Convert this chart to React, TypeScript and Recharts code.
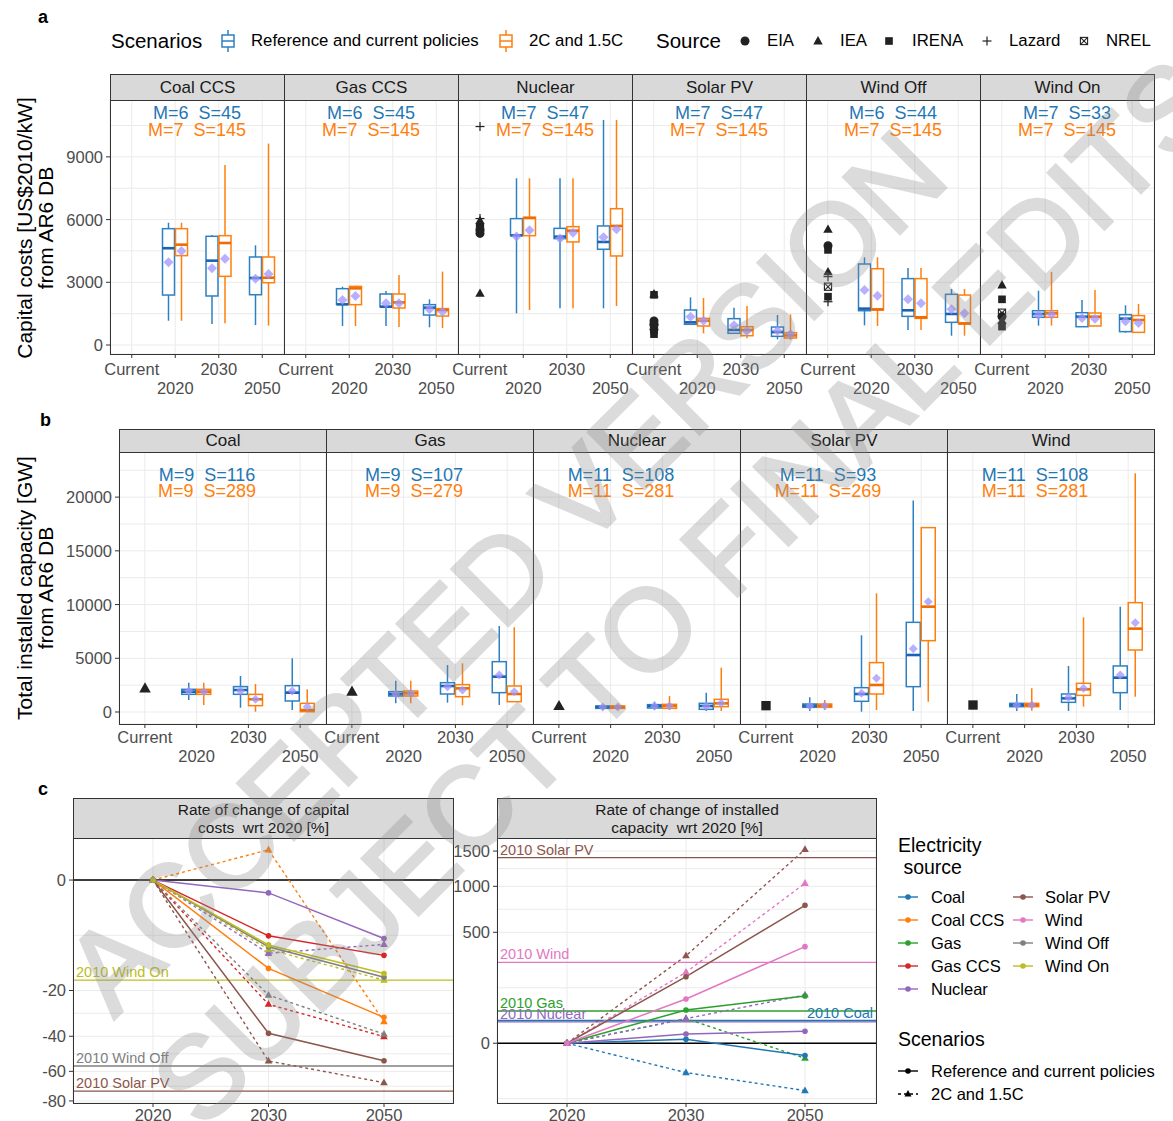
import React from 'react';
import { Bar, CartesianGrid, ComposedChart, Line, LineChart, ReferenceLine, XAxis, YAxis } from 'recharts';

const FONT = '"Liberation Sans", Arial, Helvetica, sans-serif';
const BLUE = '#2f80c2';
const BLUE_MED = '#1b62b0';
const ORANGE = '#ff7f0e';
const ORANGE_MED = '#ee6c00';
const TXT_BLUE = '#1f77b4';
const MEAN = 'rgba(160,150,255,0.75)';
const GRID = '#ebebeb';
const TICK = '#4d4d4d';
const DARK = '#333333';

const periods = ['Current', '2020', '2030', '2050'];
const sources = ['eia', 'iea', 'irena', 'lazard', 'nrel'];

// ---- panel a: capital costs, box stats [min, q1, median, q3, max, mean] for 2020 / 2030 / 2050
const costTechs = ['Coal CCS', 'Gas CCS', 'Nuclear', 'Solar PV', 'Wind Off', 'Wind On'];
const costCountsRef = ['M=6  S=45', 'M=6  S=45', 'M=7  S=47', 'M=7  S=47', 'M=6  S=44', 'M=7  S=33'];
const costCountsPol = ['M=7  S=145', 'M=7  S=145', 'M=7  S=145', 'M=7  S=145', 'M=7  S=145', 'M=7  S=145'];
const costRef = [
  [[1160, 2390, 4630, 5565, 5850, 3960], [1000, 2345, 4035, 5200, 5265, 3670], [955, 2405, 3205, 4210, 4770, 3175]],
  [[910, 1945, 1945, 2695, 2790, 2155], [910, 1820, 1835, 2440, 2585, 1995], [845, 1435, 1785, 1930, 2185, 1705]],
  [[1515, 5230, 5245, 6045, 7975, 5185], [1755, 5090, 5185, 5580, 7975, 5100], [1755, 4580, 4930, 5695, 10765, 5150]],
  [[990, 990, 1085, 1675, 2280, 1355], [560, 560, 720, 1260, 1785, 940], [270, 415, 620, 860, 1435, 685]],
  [[940, 1640, 1740, 3875, 4195, 2630], [720, 1370, 1660, 3175, 3685, 2185], [445, 1085, 1485, 2425, 2680, 1705]],
  [[925, 1325, 1485, 1640, 2600, 1435], [875, 875, 1355, 1545, 2155, 1290], [590, 640, 1260, 1450, 1900, 1135]],
];
const costPol = [
  [[1160, 4275, 4800, 5565, 5850, 4500], [1035, 3285, 4880, 5230, 8615, 4130], [925, 2980, 3220, 4210, 9635, 3395]],
  [[910, 1930, 2710, 2805, 2840, 2345], [860, 1770, 2040, 2440, 3350, 1995], [815, 1385, 1675, 1740, 3510, 1595]],
  [[1675, 5230, 6075, 6110, 7975, 5485], [1755, 4930, 5470, 5660, 7975, 5375], [1865, 4260, 5695, 6520, 10765, 5535]],
  [[560, 910, 1165, 1275, 2250, 1165], [320, 445, 720, 875, 1865, 670], [240, 335, 460, 590, 1465, 510]],
  [[910, 1675, 1705, 3650, 4195, 2360], [720, 1275, 1325, 3175, 3685, 1995], [445, 1005, 1035, 2390, 2680, 1515]],
  [[925, 1325, 1515, 1640, 3495, 1465], [910, 910, 1355, 1530, 2630, 1260], [605, 605, 1195, 1405, 1960, 1055]],
];
const costCurrent = [
  {},
  {},
  { eia: [5500, 5340], iea: [5950, 2470], irena: [5650], lazard: [10450, 6050], nrel: [5600] },
  { eia: [1150, 1000], iea: [2440, 880], irena: [2400, 700, 520], lazard: [950], nrel: [850] },
  { eia: [4750], iea: [5530, 3500], irena: [4550, 2310], lazard: [3270, 2070], nrel: [2790] },
  { eia: [1360], iea: [2870, 1165], irena: [2185, 880], nrel: [1545] },
];
const costDomain: [number, number] = [-430, 11720];
const costTicks = [0, 1500, 3000, 4500, 6000, 7500, 9000, 10500];
const costMajor = [0, 3000, 6000, 9000];

// ---- panel b: installed capacity
const capTechs = ['Coal', 'Gas', 'Nuclear', 'Solar PV', 'Wind'];
const capCountsRef = ['M=9  S=116', 'M=9  S=107', 'M=11  S=108', 'M=11  S=93', 'M=11  S=108'];
const capCountsPol = ['M=9  S=289', 'M=9  S=279', 'M=11  S=281', 'M=11  S=269', 'M=11  S=281'];
const capRef = [
  [[1115, 1645, 1895, 2110, 2730, 1955], [405, 1645, 2050, 2360, 3350, 1955], [185, 1025, 1800, 2450, 5000, 1955]],
  [[805, 1490, 1675, 1895, 2915, 1675], [870, 1675, 2420, 2730, 4375, 2360], [650, 1800, 3290, 4685, 8005, 3445]],
  [[185, 340, 465, 560, 685, 465], [185, 370, 560, 685, 960, 560], [95, 250, 560, 805, 1800, 560]],
  [[95, 435, 590, 745, 1365, 590], [30, 995, 1675, 2265, 7135, 1740], [95, 2360, 5305, 8345, 19675, 5895]],
  [[95, 495, 650, 805, 1675, 650], [95, 900, 1270, 1675, 4285, 1365], [185, 1800, 3195, 4285, 9805, 3445]],
];
const capPol = [
  [[650, 1645, 1895, 2110, 2730, 1895], [30, 590, 1180, 1645, 2605, 1180], [30, 30, 185, 805, 2110, 495]],
  [[805, 1490, 1740, 1955, 2915, 1740], [620, 1425, 2200, 2545, 4530, 2050], [960, 960, 1675, 2420, 7880, 1895]],
  [[185, 340, 465, 560, 685, 465], [185, 340, 560, 715, 1490, 560], [95, 495, 805, 1180, 4125, 805]],
  [[185, 435, 590, 745, 1115, 590], [185, 1675, 2515, 4595, 11045, 3135], [960, 6640, 9805, 17160, 17160, 10270]],
  [[125, 495, 650, 805, 2205, 650], [495, 1550, 2110, 2670, 8810, 2205], [1425, 5770, 7760, 10180, 22220, 8315]],
];
const capCurrent = [{ iea: [2205] }, { iea: [1895] }, { iea: [560] }, { irena: [590] }, { irena: [650] }];
const capDomain: [number, number] = [-1117, 24200];
const capTicks = [0, 2500, 5000, 7500, 10000, 12500, 15000, 17500, 20000, 22500];
const capMajor = [0, 5000, 10000, 15000, 20000];

// ---- panel c: rate of change wrt 2020 [%]
const years = ['2020', '2030', '2050'];
const colors: Record<string, string> = {
  Coal: '#1f77b4', 'Coal CCS': '#ff7f0e', Gas: '#2ca02c', 'Gas CCS': '#d62728', Nuclear: '#9467bd',
  'Solar PV': '#8c564b', Wind: '#e377c2', 'Wind Off': '#7f7f7f', 'Wind On': '#bcbd22',
};
const costRateRef = [[0, -12.8, -30.9], [0, -5.1, -9.3], [0, -0.27, -5.6], [0, -38.5, -53.5], [0, -7.3, -15.5], [0, -6.9, -14.3]];
const costRatePol = [[0, 1.5, -32.9], [0, -25.3, -40.2], [0, -8.8, -6.8], [0, -53.7, -67.3], [0, -21.7, -38.9], [0, -7.9, -16.4]];
const costRef2010 = [['Wind On', -16.4], ['Wind Off', -56.7], ['Solar PV', -73]];
const capRateRef = [[0, 0.65, -6.2], [0, 45, 90.8], [0, 3.5, 5.85], [0, 180, 773], [0, 79.6, 379]];
const capRatePol = [[0, -35, -91], [0, 24.6, -9.1], [0, 24.6, 94.7], [0, 311, 1527], [0, 204.6, 1039]];
const capRef2010 = [['Solar PV', 1398], ['Wind', 266], ['Gas', 42.3], ['Nuclear', 18.5], ['Coal', 21]];

function Txt({ x, y, size = 16, color = '#000', anchor = 'start', bold = false, children }: any) {
  const tx = anchor === 'middle' ? '-50%' : anchor === 'end' ? '-100%' : '0';
  return (
    <div style={{ position: 'absolute', left: x, top: y, transform: `translate(${tx}, -50%)`, fontSize: size, color, fontWeight: bold ? 700 : 400, whiteSpace: 'pre', lineHeight: 1.1 }}>
      {children}
    </div>
  );
}

function marker(type: string, cx: number, cy: number, s: number, key: string) {
  const h = s / 2;
  if (type === 'eia') return <circle key={key} cx={cx} cy={cy} r={h} fill="#222" />;
  if (type === 'iea') return <path key={key} d={`M${cx},${cy - h * 1.1} L${cx + h * 1.05},${cy + h * 0.75} L${cx - h * 1.05},${cy + h * 0.75}Z`} fill="#222" />;
  if (type === 'irena') return <rect key={key} x={cx - h * 0.85} y={cy - h * 0.85} width={h * 1.7} height={h * 1.7} fill="#222" />;
  if (type === 'lazard')
    return (
      <g key={key} stroke="#222" strokeWidth={1.2}>
        <line x1={cx - h} x2={cx + h} y1={cy} y2={cy} />
        <line x1={cx} x2={cx} y1={cy - h} y2={cy + h} />
      </g>
    );
  return (
    <g key={key} stroke="#222" strokeWidth={1.1} fill="none">
      <rect x={cx - h * 0.8} y={cy - h * 0.8} width={h * 1.6} height={h * 1.6} />
      <line x1={cx - h * 0.8} x2={cx + h * 0.8} y1={cy - h * 0.8} y2={cy + h * 0.8} />
      <line x1={cx - h * 0.8} x2={cx + h * 0.8} y1={cy + h * 0.8} y2={cy - h * 0.8} />
    </g>
  );
}

const boxShape = (key: 'ref' | 'pol', stroke: string, med: string, dia: number) => (props: any) => {
  const { x, y, width, height, payload } = props;
  const b = payload ? payload[key] : null;
  if (!b || !height) return <g />;
  const [lo, q1, md, q3, hi, mean] = b;
  const py = (v: number) => y + ((hi - v) / (hi - lo)) * height;
  const cx = x + width / 2;
  const my = py(mean);
  return (
    <g>
      <line x1={cx} x2={cx} y1={py(hi)} y2={py(q3)} stroke={stroke} strokeWidth={1.5} />
      <line x1={cx} x2={cx} y1={py(q1)} y2={py(lo)} stroke={stroke} strokeWidth={1.5} />
      <rect x={x} y={py(q3)} width={width} height={Math.max(py(q1) - py(q3), 0.5)} fill="#fff" stroke={stroke} strokeWidth={1.5} />
      <line x1={x} x2={x + width} y1={py(md)} y2={py(md)} stroke={med} strokeWidth={2.6} />
      <path d={`M${cx},${my - dia} L${cx + dia},${my} L${cx},${my + dia} L${cx - dia},${my}Z`} fill={MEAN} />
    </g>
  );
};

const curShape = (domain: [number, number], s: number) => (props: any) => {
  const { x, y, width, height, payload } = props;
  const c = payload ? payload.cur : null;
  if (!c || !height) return <g />;
  const [lo, hi] = domain;
  const py = (v: number) => y + ((hi - v) / (hi - lo)) * height;
  const cx = x + width / 2;
  return <g>{sources.flatMap((src) => (c[src] || []).map((v: number, i: number) => marker(src, cx, py(v), s, `${src}${i}`)))}</g>;
};

const makeYTick = (major: number[], size: number) => (props: any) => {
  const { x, y, payload } = props;
  if (!major.includes(payload.value)) return <g />;
  return (
    <g>
      <line x1={x + 3} x2={x + 7} y1={y} y2={y} stroke={DARK} />
      <text x={x} y={y} dy={size * 0.36} textAnchor="end" fontSize={size} fill={TICK}>
        {payload.value}
      </text>
    </g>
  );
};

const makeStagTick = (d1: number, d2: number) => (props: any) => {
  const { x, y, payload, index } = props;
  return (
    <text x={x} y={y + (index % 2 === 0 ? d1 : d2)} textAnchor="middle" fontSize={16.5} fill={TICK}>
      {payload.value}
    </text>
  );
};

function BoxFacet({ left, top, width, plotH, axisW, domain, ticks, major, rows, barSize, dy, dia, mSize }: any) {
  return (
    <div style={{ position: 'absolute', left: left - axisW, top }}>
      <ComposedChart width={width + axisW} height={plotH + 45} data={rows} margin={{ top: 0, right: 0, bottom: 0, left: 0 }} barGap={1}>
        <CartesianGrid stroke={GRID} />
        <XAxis dataKey="cat" type="category" interval={0} height={45} tickSize={4} tickMargin={0} axisLine={false} tickLine={{ stroke: DARK }} tick={makeStagTick(dy[0], dy[1])} />
        <XAxis xAxisId="cur" dataKey="cat" type="category" hide />
        <YAxis type="number" domain={domain} allowDataOverflow ticks={ticks} interval={0} width={axisW || 1} hide={!axisW} tickSize={4} tickMargin={3} tickLine={false} axisLine={false} tick={makeYTick(major, 16.5)} />
        <Bar dataKey={(d: any) => (d.ref ? [d.ref[0], d.ref[4]] : null)} barSize={barSize} shape={boxShape('ref', BLUE, BLUE_MED, dia)} isAnimationActive={false} />
        <Bar dataKey={(d: any) => (d.pol ? [d.pol[0], d.pol[4]] : null)} barSize={barSize} shape={boxShape('pol', ORANGE, ORANGE_MED, dia)} isAnimationActive={false} />
        <Bar xAxisId="cur" dataKey={(d: any) => (d.cur ? domain : null)} barSize={12} shape={curShape(domain, mSize)} isAnimationActive={false} />
      </ComposedChart>
    </div>
  );
}

function facetRows(ref: number[][], pol: number[][], cur: any) {
  return periods.map((p, i) => ({ cat: p, ref: i > 0 ? ref[i - 1] : null, pol: i > 0 ? pol[i - 1] : null, cur: i === 0 ? cur : null }));
}

function Strip({ left, top, width, height, size = 17, children }: any) {
  return (
    <div style={{ position: 'absolute', left, top, width, height, background: '#d9d9d9', border: `1px solid ${DARK}`, boxSizing: 'border-box', display: 'flex', alignItems: 'center', justifyContent: 'center', textAlign: 'center', fontSize: size, color: '#1a1a1a', lineHeight: 1.12, whiteSpace: 'pre' }}>
      {children}
    </div>
  );
}

function Frame({ left, top, width, height }: any) {
  return <div style={{ position: 'absolute', left, top, width, height, border: `1px solid ${DARK}`, boxSizing: 'border-box', pointerEvents: 'none' }} />;
}

const triDot = (color: string) => (p: any) => {
  if (p.cx == null || p.cy == null) return <g key={`t${p.index}`} />;
  return <path key={`t${p.index}`} d={`M${p.cx},${p.cy - 4.2} L${p.cx + 3.8},${p.cy + 2.6} L${p.cx - 3.8},${p.cy + 2.6}Z`} fill={color} />;
};

function RateChart({ left, width, axisW, techs, refVals, polVals, lines2010, domain, ticks, major, padding, labelRight }: any) {
  const rows = years.map((yr, i) => {
    const row: any = { year: yr };
    techs.forEach((_t: string, k: number) => {
      row[`r${k}`] = refVals[k][i];
      row[`p${k}`] = polVals[k][i];
    });
    return row;
  });
  return (
    <div style={{ position: 'absolute', left: left - axisW, top: 838 }}>
      <LineChart width={width + axisW} height={290} data={rows} margin={{ top: 0, right: 0, bottom: 0, left: 0 }}>
        <CartesianGrid stroke={GRID} />
        <XAxis dataKey="year" type="category" interval={0} padding={padding} height={25} tickSize={4} tickMargin={2} axisLine={false} tickLine={{ stroke: DARK }} tick={{ fill: TICK, fontSize: 16.5 }} />
        <YAxis type="number" scale="sqrt" domain={domain} allowDataOverflow ticks={ticks} interval={0} width={axisW} tickSize={4} tickMargin={3} tickLine={false} axisLine={false} tick={makeYTick(major, 16.5)} />
        <ReferenceLine y={0} stroke="#000" strokeWidth={1.4} />
        {lines2010.map(([name, v]: any) => (
          <ReferenceLine
            key={name}
            y={v}
            stroke={colors[name]}
            strokeWidth={1.3}
            label={{ value: `2010 ${name}`, position: labelRight.includes(name) ? 'insideBottomRight' : 'insideBottomLeft', fill: colors[name], fontSize: 14.5, offset: 3 }}
          />
        ))}
        {techs.map((t: string, k: number) => (
          <Line key={`p${k}`} dataKey={`p${k}`} stroke={colors[t]} strokeWidth={1.4} strokeDasharray="3 3" dot={triDot(colors[t])} isAnimationActive={false} />
        ))}
        {techs.map((t: string, k: number) => (
          <Line key={`r${k}`} dataKey={`r${k}`} stroke={colors[t]} strokeWidth={1.5} dot={{ r: 2.8, fill: colors[t], stroke: colors[t], strokeWidth: 0 }} isAnimationActive={false} />
        ))}
      </LineChart>
    </div>
  );
}

function BoxGlyph({ color }: any) {
  return (
    <svg width={16} height={22} style={{ display: 'block' }}>
      <line x1={8} x2={8} y1={0} y2={22} stroke={color} strokeWidth={1.5} />
      <rect x={2} y={5} width={12} height={12} fill="#fff" stroke={color} strokeWidth={1.5} />
      <line x1={2} x2={14} y1={11} y2={11} stroke={color} strokeWidth={1.5} />
    </svg>
  );
}

function Sym({ type, x, y }: any) {
  return (
    <svg width={14} height={14} style={{ position: 'absolute', left: x - 7, top: y - 7 }}>
      {marker(type, 7, 7, 9, type)}
    </svg>
  );
}

function KeyLine({ x, y, color, dashed }: any) {
  return (
    <svg width={22} height={12} style={{ position: 'absolute', left: x, top: y - 6 }}>
      <line x1={1} x2={21} y1={6} y2={6} stroke={color} strokeWidth={1.4} strokeDasharray={dashed ? '3 3' : undefined} />
      {dashed ? <path d="M11,2 L14.5,8.5 L7.5,8.5Z" fill={color} /> : <circle cx={11} cy={6} r={2.8} fill={color} />}
    </svg>
  );
}

export default function App() {
  const aLeft = 110;
  const aW = 174;
  const bLeft = 119;
  const bW = 207;
  return (
    <div style={{ position: 'absolute', left: 0, top: 0, width: 1173, height: 1121, overflow: 'hidden', background: '#fff', fontFamily: FONT }}>
      <style>{'.recharts-surface{overflow:visible}'}</style>
      {/* ---------- a ---------- */}
      <Txt x={38} y={18} size={18} bold>a</Txt>
      <Txt x={111} y={41} size={20.5}>Scenarios</Txt>
      <div style={{ position: 'absolute', left: 220, top: 30 }}><BoxGlyph color={BLUE} /></div>
      <Txt x={251} y={41} size={16.8}>Reference and current policies</Txt>
      <div style={{ position: 'absolute', left: 498, top: 30 }}><BoxGlyph color={ORANGE} /></div>
      <Txt x={529} y={41} size={16.8}>2C and 1.5C</Txt>
      <Txt x={656} y={41} size={20.5}>Source</Txt>
      <Sym type="eia" x={745} y={41} />
      <Txt x={767} y={41} size={16.8}>EIA</Txt>
      <Sym type="iea" x={818} y={41} />
      <Txt x={840} y={41} size={16.8}>IEA</Txt>
      <Sym type="irena" x={889} y={41} />
      <Txt x={912} y={41} size={16.8}>IRENA</Txt>
      <Sym type="lazard" x={987} y={41} />
      <Txt x={1009} y={41} size={16.8}>Lazard</Txt>
      <Sym type="nrel" x={1084} y={41} />
      <Txt x={1106} y={41} size={16.8}>NREL</Txt>

      <div style={{ position: 'absolute', left: 35, top: 228, transform: 'translate(-50%, -50%) rotate(-90deg)', fontSize: 21, lineHeight: '21px', textAlign: 'center', whiteSpace: 'nowrap' }}>
        Capital costs [US$2010/kW]<br />from AR6 DB
      </div>
      {costTechs.map((t, i) => (
        <BoxFacet
          key={t}
          left={aLeft + i * aW}
          top={100}
          width={aW}
          plotH={254}
          axisW={i === 0 ? 50 : 0}
          domain={costDomain}
          ticks={costTicks}
          major={costMajor}
          rows={facetRows(costRef[i], costPol[i], costCurrent[i])}
          barSize={12}
          dy={[16.5, 35.5]}
          dia={5}
          mSize={9}
        />
      ))}
      {costTechs.map((t, i) => (
        <React.Fragment key={`s${t}`}>
          <Strip left={aLeft + i * aW} top={74} width={aW + 1} height={27}>{t}</Strip>
          <Frame left={aLeft + i * aW} top={100} width={aW + 1} height={255} />
          <Txt x={aLeft + i * aW + 87} y={114} size={18} color={TXT_BLUE} anchor="middle">{costCountsRef[i]}</Txt>
          <Txt x={aLeft + i * aW + 87} y={131} size={18} color={ORANGE} anchor="middle">{costCountsPol[i]}</Txt>
        </React.Fragment>
      ))}

      {/* ---------- b ---------- */}
      <Txt x={40} y={421} size={18} bold>b</Txt>
      <div style={{ position: 'absolute', left: 35, top: 588, transform: 'translate(-50%, -50%) rotate(-90deg)', fontSize: 21, lineHeight: '21px', textAlign: 'center', whiteSpace: 'nowrap' }}>
        Total installed capacity [GW]<br />from AR6 DB
      </div>
      {capTechs.map((t, i) => (
        <BoxFacet
          key={t}
          left={bLeft + i * bW}
          top={452}
          width={bW}
          plotH={272}
          axisW={i === 0 ? 55 : 0}
          domain={capDomain}
          ticks={capTicks}
          major={capMajor}
          rows={facetRows(capRef[i], capPol[i], capCurrent[i])}
          barSize={14}
          dy={[14.5, 33.5]}
          dia={4.5}
          mSize={11}
        />
      ))}
      {capTechs.map((t, i) => (
        <React.Fragment key={`s${t}`}>
          <Strip left={bLeft + i * bW} top={429} width={bW + 1} height={24}>{t}</Strip>
          <Frame left={bLeft + i * bW} top={452} width={bW + 1} height={273} />
          <Txt x={bLeft + i * bW + 88} y={476} size={18} color={TXT_BLUE} anchor="middle">{capCountsRef[i]}</Txt>
          <Txt x={bLeft + i * bW + 88} y={492} size={18} color={ORANGE} anchor="middle">{capCountsPol[i]}</Txt>
        </React.Fragment>
      ))}

      {/* ---------- c ---------- */}
      <Txt x={38} y={790} size={18} bold>c</Txt>
      <RateChart
        left={73}
        width={380}
        axisW={45}
        techs={costTechs}
        refVals={costRateRef}
        polVals={costRatePol}
        lines2010={costRef2010}
        domain={[-81.5, 2.9]}
        ticks={[0, -5, -20, -29.1, -40, -49.5, -60, -69.7, -80]}
        major={[0, -20, -40, -60, -80]}
        padding={{ left: 80, right: 69 }}
        labelRight={[]}
      />
      <RateChart
        left={497}
        width={379}
        axisW={42}
        techs={capTechs}
        refVals={capRateRef}
        polVals={capRatePol}
        lines2010={capRef2010}
        domain={[-145, 1711]}
        ticks={[-125, 0, 125, 500, 729, 1000, 1238, 1500]}
        major={[0, 500, 1000, 1500]}
        padding={{ left: 70, right: 71 }}
        labelRight={['Coal']}
      />
      <Strip left={73} top={798} width={381} height={41} size={15.5}>{'Rate of change of capital\ncosts  wrt 2020 [%]'}</Strip>
      <Frame left={73} top={838} width={381} height={266} />
      <Strip left={497} top={798} width={380} height={41} size={15.5}>{'Rate of change of installed\ncapacity  wrt 2020 [%]'}</Strip>
      <Frame left={497} top={838} width={380} height={266} />

      <Txt x={898} y={846} size={19.5}>Electricity</Txt>
      <Txt x={898} y={868} size={19.5}> source</Txt>
      {['Coal', 'Coal CCS', 'Gas', 'Gas CCS', 'Nuclear'].map((t, i) => (
        <React.Fragment key={t}>
          <KeyLine x={897} y={897 + i * 23} color={colors[t]} />
          <Txt x={931} y={897 + i * 23} size={16.5}>{t}</Txt>
        </React.Fragment>
      ))}
      {['Solar PV', 'Wind', 'Wind Off', 'Wind On'].map((t, i) => (
        <React.Fragment key={t}>
          <KeyLine x={1012} y={897 + i * 23} color={colors[t]} />
          <Txt x={1045} y={897 + i * 23} size={16.5}>{t}</Txt>
        </React.Fragment>
      ))}
      <Txt x={898} y={1040} size={19.5}>Scenarios</Txt>
      <KeyLine x={897} y={1071} color="#000" />
      <Txt x={931} y={1071} size={16.5}>Reference and current policies</Txt>
      <KeyLine x={897} y={1094} color="#000" dashed />
      <Txt x={931} y={1094} size={16.5}>2C and 1.5C</Txt>

      {/* watermark */}
      {[
        ['ACCEPTED VERSION', 505, 572],
        ['SUBJECT TO FINAL EDITS', 685, 592],
      ].map(([s, x, y]) => (
        <div
          key={s as string}
          style={{
            position: 'absolute',
            left: x as number,
            top: y as number,
            transform: 'translate(-50%, -50%) rotate(-45deg)',
            fontSize: 116,
            lineHeight: 1,
            color: '#8a8a8a',
            WebkitTextStroke: '3px #8a8a8a',
            opacity: 0.3,
            whiteSpace: 'nowrap',
            pointerEvents: 'none',
          }}
        >
          {s}
        </div>
      ))}
    </div>
  );
}
